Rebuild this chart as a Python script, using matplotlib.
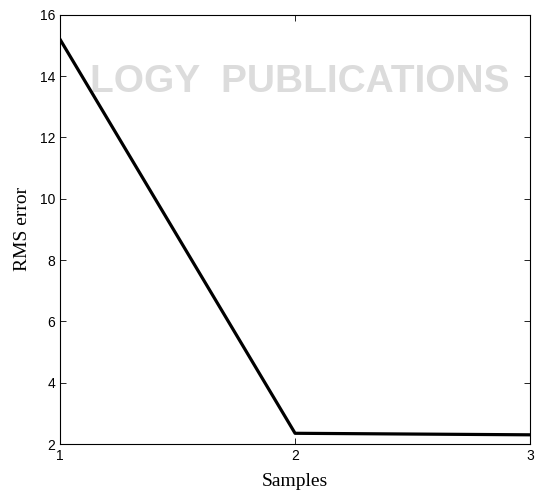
import matplotlib
matplotlib.use("Agg")
import matplotlib.pyplot as plt

# Data
samples = [1, 2, 3]
rms_error = [15.2, 2.35, 2.3]
y_ticks = [2, 4, 6, 8, 10, 12, 14, 16]
x_ticks = [1, 2, 3]

plt.rcParams['font.family'] = ['Liberation Sans', 'DejaVu Sans']

fig = plt.figure(figsize=(5.36, 4.95), dpi=100)
ax = fig.add_axes([0.112, 0.103, 0.877, 0.867])
ax.set_facecolor('none')

# faint publisher watermark behind the plot (kept clear of the tick labels)
fig.text(0.56, 0.835, "LOGY  PUBLICATIONS", ha='center', va='center',
         fontsize=28, fontweight='bold', color='#dcdcdc', zorder=-1)

ax.plot(samples, rms_error, color='black', linewidth=2.3)

ax.set_xlim(1, 3)
ax.set_ylim(2, 16)
ax.set_xticks(x_ticks)
ax.set_yticks(y_ticks)
ax.tick_params(direction='in', top=True, right=True, labelsize=10, length=4, width=0.6)
for s in ax.spines.values():
    s.set_linewidth(0.8)

ax.set_xlabel("Samples", family='Liberation Serif', fontsize=14, labelpad=7)
ax.set_ylabel("RMS error", family='Liberation Serif', fontsize=14, labelpad=6)

fig.savefig("out.png", dpi=100)
